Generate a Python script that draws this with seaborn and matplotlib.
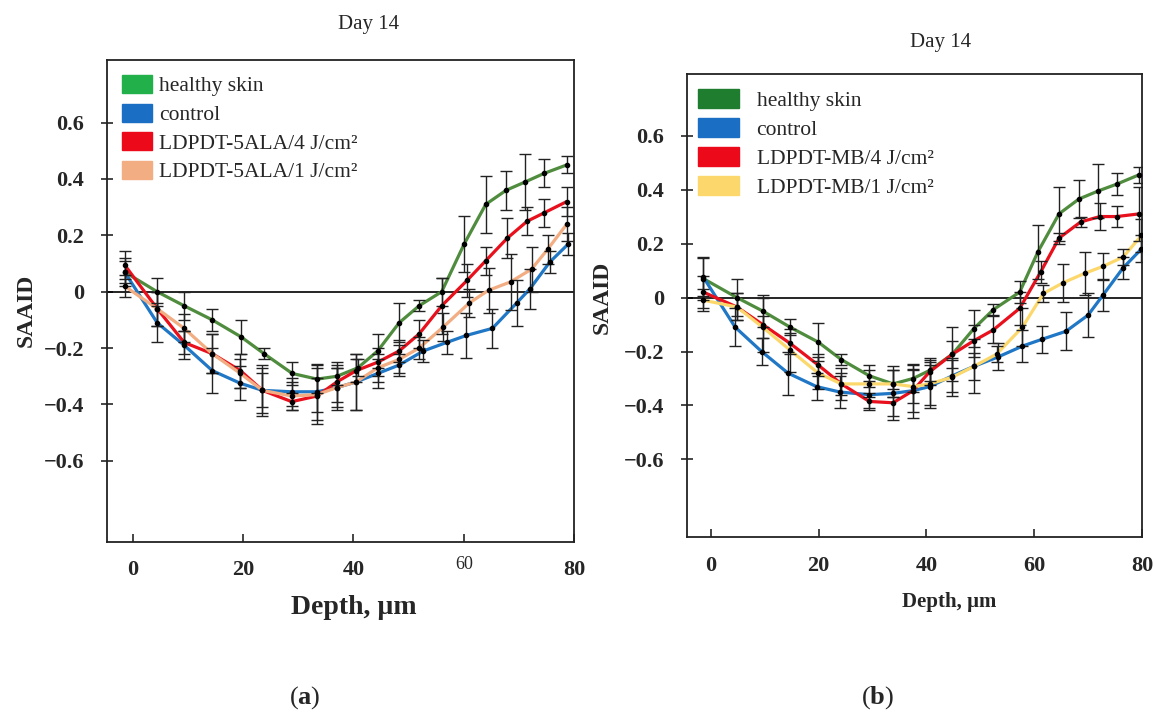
import matplotlib
matplotlib.use("Agg")
import matplotlib.pyplot as plt
import matplotlib.transforms as mtransforms
from matplotlib.patches import Patch
import seaborn as sns

# ---- panel (a): 5-ALA ----
a_labels = ["healthy skin", "control", "LDPDT-5ALA/4 J/cm²", "LDPDT-5ALA/1 J/cm²"]
a_line_colors = ["#4f8c3d", "#1f77c6", "#e8101c", "#f2ad82"]
a_patch_colors = ["#22b04b", "#1a6fc4", "#ec0a1a", "#f2ad82"]

a_depth_healthy = [-1.5, 4.4, 9.3, 14.4, 19.6, 23.8, 28.9, 33.4, 37.0, 40.8, 44.4, 48.3, 51.9, 56.0, 60.1, 64.0, 67.7, 71.2, 74.6, 78.7]
a_saaid_healthy = [0.07, 0.0, -0.05, -0.10, -0.16, -0.22, -0.29, -0.31, -0.30, -0.27, -0.21, -0.11, -0.05, 0.0, 0.17, 0.31, 0.36, 0.39, 0.42, 0.45]
a_err_healthy = [0.04, 0.05, 0.05, 0.04, 0.06, 0.02, 0.04, 0.05, 0.03, 0.03, 0.06, 0.07, 0.02, 0.05, 0.10, 0.10, 0.07, 0.10, 0.05, 0.03]

a_depth_control = [-1.5, 4.4, 9.3, 14.4, 19.5, 23.5, 28.8, 33.4, 37.0, 40.5, 44.4, 48.3, 52.7, 56.9, 60.5, 65.2, 69.6, 72.0, 75.6, 79.0]
a_saaid_control = [0.07, -0.11, -0.19, -0.28, -0.325, -0.35, -0.355, -0.355, -0.34, -0.32, -0.29, -0.26, -0.21, -0.18, -0.155, -0.13, -0.04, 0.01, 0.105, 0.17]
a_err_control = [0.05, 0.07, 0.05, 0.08, 0.06, 0.09, 0.05, 0.10, 0.07, 0.10, 0.05, 0.04, 0.04, 0.04, 0.08, 0.07, 0.08, 0.07, 0.04, 0.04]

a_depth_4j = [-1.5, 4.4, 9.3, 14.4, 19.5, 23.5, 28.8, 33.4, 37.0, 40.5, 44.4, 48.3, 51.9, 56.0, 60.6, 64.0, 67.9, 71.5, 74.6, 78.7]
a_saaid_4j = [0.095, -0.06, -0.18, -0.22, -0.28, -0.35, -0.39, -0.37, -0.32, -0.28, -0.25, -0.21, -0.15, -0.05, 0.04, 0.11, 0.19, 0.25, 0.28, 0.32]
a_err_4j = [0.05, 0.06, 0.04, 0.07, 0.06, 0.08, 0.03, 0.10, 0.07, 0.04, 0.05, 0.04, 0.05, 0.10, 0.06, 0.05, 0.07, 0.05, 0.05, 0.05]

a_depth_1j = [-1.5, 4.4, 9.3, 14.4, 19.5, 23.5, 28.8, 33.4, 37.0, 40.5, 44.4, 48.3, 51.9, 56.3, 61.0, 64.5, 68.5, 72.3, 75.2, 78.7]
a_saaid_1j = [0.02, -0.06, -0.13, -0.22, -0.29, -0.35, -0.37, -0.365, -0.34, -0.32, -0.27, -0.24, -0.20, -0.125, -0.04, 0.005, 0.035, 0.08, 0.15, 0.24]
a_err_1j = [0.04, 0.06, 0.05, 0.07, 0.05, 0.06, 0.05, 0.06, 0.08, 0.10, 0.05, 0.05, 0.04, 0.05, 0.05, 0.08, 0.10, 0.08, 0.05, 0.06]

# ---- panel (b): MB ----
b_labels = ["healthy skin", "control", "LDPDT-MB/4 J/cm²", "LDPDT-MB/1 J/cm²"]
b_line_colors = ["#4f8c3d", "#1f77c6", "#e8101c", "#fcd86c"]
b_patch_colors = ["#1f7d30", "#1a6fc4", "#ec0a1a", "#fcd86c"]

b_depth_healthy = [-1.4, 4.8, 9.6, 14.7, 19.9, 24.2, 29.4, 33.8, 37.5, 40.6, 44.8, 48.8, 52.4, 57.3, 60.7, 64.6, 68.3, 71.9, 75.3, 79.5]
b_saaid_healthy = [0.07, 0.0, -0.05, -0.11, -0.165, -0.23, -0.29, -0.32, -0.30, -0.27, -0.21, -0.115, -0.045, 0.02, 0.17, 0.31, 0.365, 0.395, 0.42, 0.455]
b_err_healthy = [0.08, 0.07, 0.06, 0.03, 0.07, 0.02, 0.04, 0.05, 0.05, 0.04, 0.10, 0.07, 0.02, 0.04, 0.10, 0.10, 0.07, 0.10, 0.04, 0.03]

b_depth_control = [-1.4, 4.5, 9.4, 14.3, 19.6, 23.9, 29.4, 33.8, 37.5, 40.6, 44.8, 48.8, 53.3, 57.8, 61.4, 65.9, 70.0, 72.8, 76.5, 79.9]
b_saaid_control = [0.075, -0.11, -0.20, -0.28, -0.33, -0.35, -0.36, -0.355, -0.345, -0.33, -0.29, -0.255, -0.22, -0.18, -0.155, -0.125, -0.065, 0.01, 0.11, 0.18]
b_err_control = [0.07, 0.07, 0.05, 0.08, 0.05, 0.06, 0.05, 0.10, 0.08, 0.08, 0.06, 0.05, 0.05, 0.06, 0.05, 0.07, 0.08, 0.06, 0.04, 0.05]

b_depth_4j = [-1.4, 4.8, 9.6, 14.7, 19.9, 24.2, 29.4, 33.8, 37.5, 40.6, 44.8, 48.8, 52.4, 57.3, 61.2, 64.6, 68.6, 72.2, 75.3, 79.5]
b_saaid_4j = [0.02, -0.035, -0.10, -0.17, -0.25, -0.32, -0.385, -0.39, -0.345, -0.275, -0.21, -0.16, -0.12, -0.04, 0.095, 0.22, 0.28, 0.30, 0.30, 0.31]
b_err_4j = [0.06, 0.05, 0.10, 0.04, 0.04, 0.04, 0.03, 0.05, 0.10, 0.05, 0.05, 0.06, 0.05, 0.06, 0.04, 0.02, 0.02, 0.05, 0.04, 0.10]

b_depth_1j = [-1.4, 4.8, 9.6, 14.7, 19.9, 24.2, 29.4, 33.8, 37.5, 40.6, 44.8, 48.8, 53.0, 57.8, 61.7, 65.4, 69.4, 72.7, 76.5, 79.9]
b_saaid_1j = [-0.01, -0.035, -0.11, -0.195, -0.28, -0.32, -0.32, -0.32, -0.33, -0.32, -0.295, -0.255, -0.21, -0.11, 0.015, 0.055, 0.09, 0.115, 0.15, 0.23]
b_err_1j = [0.04, 0.05, 0.04, 0.08, 0.06, 0.06, 0.05, 0.05, 0.06, 0.08, 0.07, 0.10, 0.03, 0.07, 0.03, 0.07, 0.08, 0.05, 0.03, 0.06]

y_ticks = [0.6, 0.4, 0.2, 0, -0.2, -0.4, -0.6]
y_ticklabels = ["0.6", "0.4", "0.2", "0", "\u22120.2", "\u22120.4", "\u22120.6"]
x_ticks = [0, 20, 40, 60, 80]
x_ticklabels = ["0", "20", "40", "60", "80"]

sns.set_style("ticks")
plt.rcParams['font.family'] = ['Liberation Serif', 'DejaVu Serif']
plt.rcParams['mathtext.fontset'] = 'custom'
plt.rcParams['mathtext.rm'] = 'Liberation Serif'
plt.rcParams['mathtext.bf'] = 'Liberation Serif:bold'
plt.rcParams['axes.linewidth'] = 1.3

fig = plt.figure(figsize=(11.54, 7.18), dpi=100)
ax_a = fig.add_axes([0.0927, 0.2451, 0.4047, 0.6713])
ax_b = fig.add_axes([0.5953, 0.2514, 0.3943, 0.6455])


def draw_panel(ax, series, line_colors, patch_colors, xlim, ylim):
    ax.axhline(0, color="black", lw=1.2, zorder=1)
    for (dx, sy, er), c in zip(series, line_colors):
        sns.lineplot(x=dx, y=sy, ax=ax, color=c, lw=2.3, sort=False,
                     legend=False, zorder=2)
    for (dx, sy, er) in series:
        ax.errorbar(dx, sy, yerr=er, fmt="o", ms=3, color="black",
                    ecolor="#222222", elinewidth=1.0, capsize=4.5,
                    capthick=1.0, zorder=3)
    ax.set_xlim(*xlim)
    ax.set_ylim(*ylim)
    ax.set_yticks(y_ticks)
    ax.set_yticklabels(y_ticklabels, fontsize=16, fontweight="bold")
    ax.set_xticks(x_ticks)
    ax.set_xticklabels(x_ticklabels, fontsize=16, fontweight="bold")
    ax.tick_params(axis="y", direction="inout", length=9, width=1.2, pad=12)
    ax.tick_params(axis="x", direction="in", length=6, width=1.2, pad=13)
    ax.set_xlabel("")
    ax.set_ylabel("")
    for sp in ax.spines.values():
        sp.set_visible(True)
        sp.set_color("#222222")
    return [Patch(facecolor=c, edgecolor=c) for c in patch_colors]


series_a = [(a_depth_healthy, a_saaid_healthy, a_err_healthy),
            (a_depth_control, a_saaid_control, a_err_control),
            (a_depth_4j, a_saaid_4j, a_err_4j),
            (a_depth_1j, a_saaid_1j, a_err_1j)]
series_b = [(b_depth_healthy, b_saaid_healthy, b_err_healthy),
            (b_depth_control, b_saaid_control, b_err_control),
            (b_depth_4j, b_saaid_4j, b_err_4j),
            (b_depth_1j, b_saaid_1j, b_err_1j)]

h_a = draw_panel(ax_a, series_a, a_line_colors, a_patch_colors,
                 (-4.7, 80), (-0.888, 0.822))
h_b = draw_panel(ax_b, series_b, b_line_colors, b_patch_colors,
                 (-4.45, 80), (-0.889, 0.828))

ax_a.legend(h_a, a_labels, loc="upper left", bbox_to_anchor=(0.0, 1.0),
            frameon=False, fontsize=15.5, handlelength=1.4, handleheight=0.9,
            handletextpad=0.3, labelspacing=0.34, borderpad=0.2)
ax_b.legend(h_b, b_labels, loc="upper left", bbox_to_anchor=(-0.008, 1.0),
            frameon=False, fontsize=15.5, handlelength=1.9, handleheight=0.95,
            handletextpad=0.8, labelspacing=0.34, borderpad=0.2)

# the "60" label on panel (a) is smaller, not bold and a little higher
lift = mtransforms.ScaledTranslation(0, 3 / 72, fig.dpi_scale_trans)
for lab in ax_a.get_xticklabels():
    if lab.get_text() == "60":
        lab.set_fontsize(13)
        lab.set_fontweight("normal")
        lab.set_transform(lab.get_transform() + lift)

W, H = 1154, 718
fig.text(369 / W, 1 - 25 / H, "Day 14", ha="center", va="center", fontsize=15)
fig.text(941 / W, 1 - 43 / H, "Day 14", ha="center", va="center", fontsize=15)
fig.text(26 / W, 1 - 310 / H, "SAAID", rotation=90, ha="center", va="center",
         fontsize=17, fontweight="bold")
fig.text(602 / W, 1 - 297 / H, "SAAID", rotation=90, ha="center", va="center",
         fontsize=17, fontweight="bold")
fig.text(354 / W, 1 - 608 / H, "Depth, µm", ha="center", va="center",
         fontsize=20, fontweight="bold")
fig.text(949 / W, 1 - 602 / H, "Depth, µm", ha="center", va="center",
         fontsize=15, fontweight="bold")
fig.text(305 / W, 1 - 698 / H, r"($\mathbf{a}$)", ha="center", va="center",
         fontsize=19)
fig.text(878 / W, 1 - 698 / H, r"($\mathbf{b}$)", ha="center", va="center",
         fontsize=19)

fig.savefig("out.png", dpi=100)
